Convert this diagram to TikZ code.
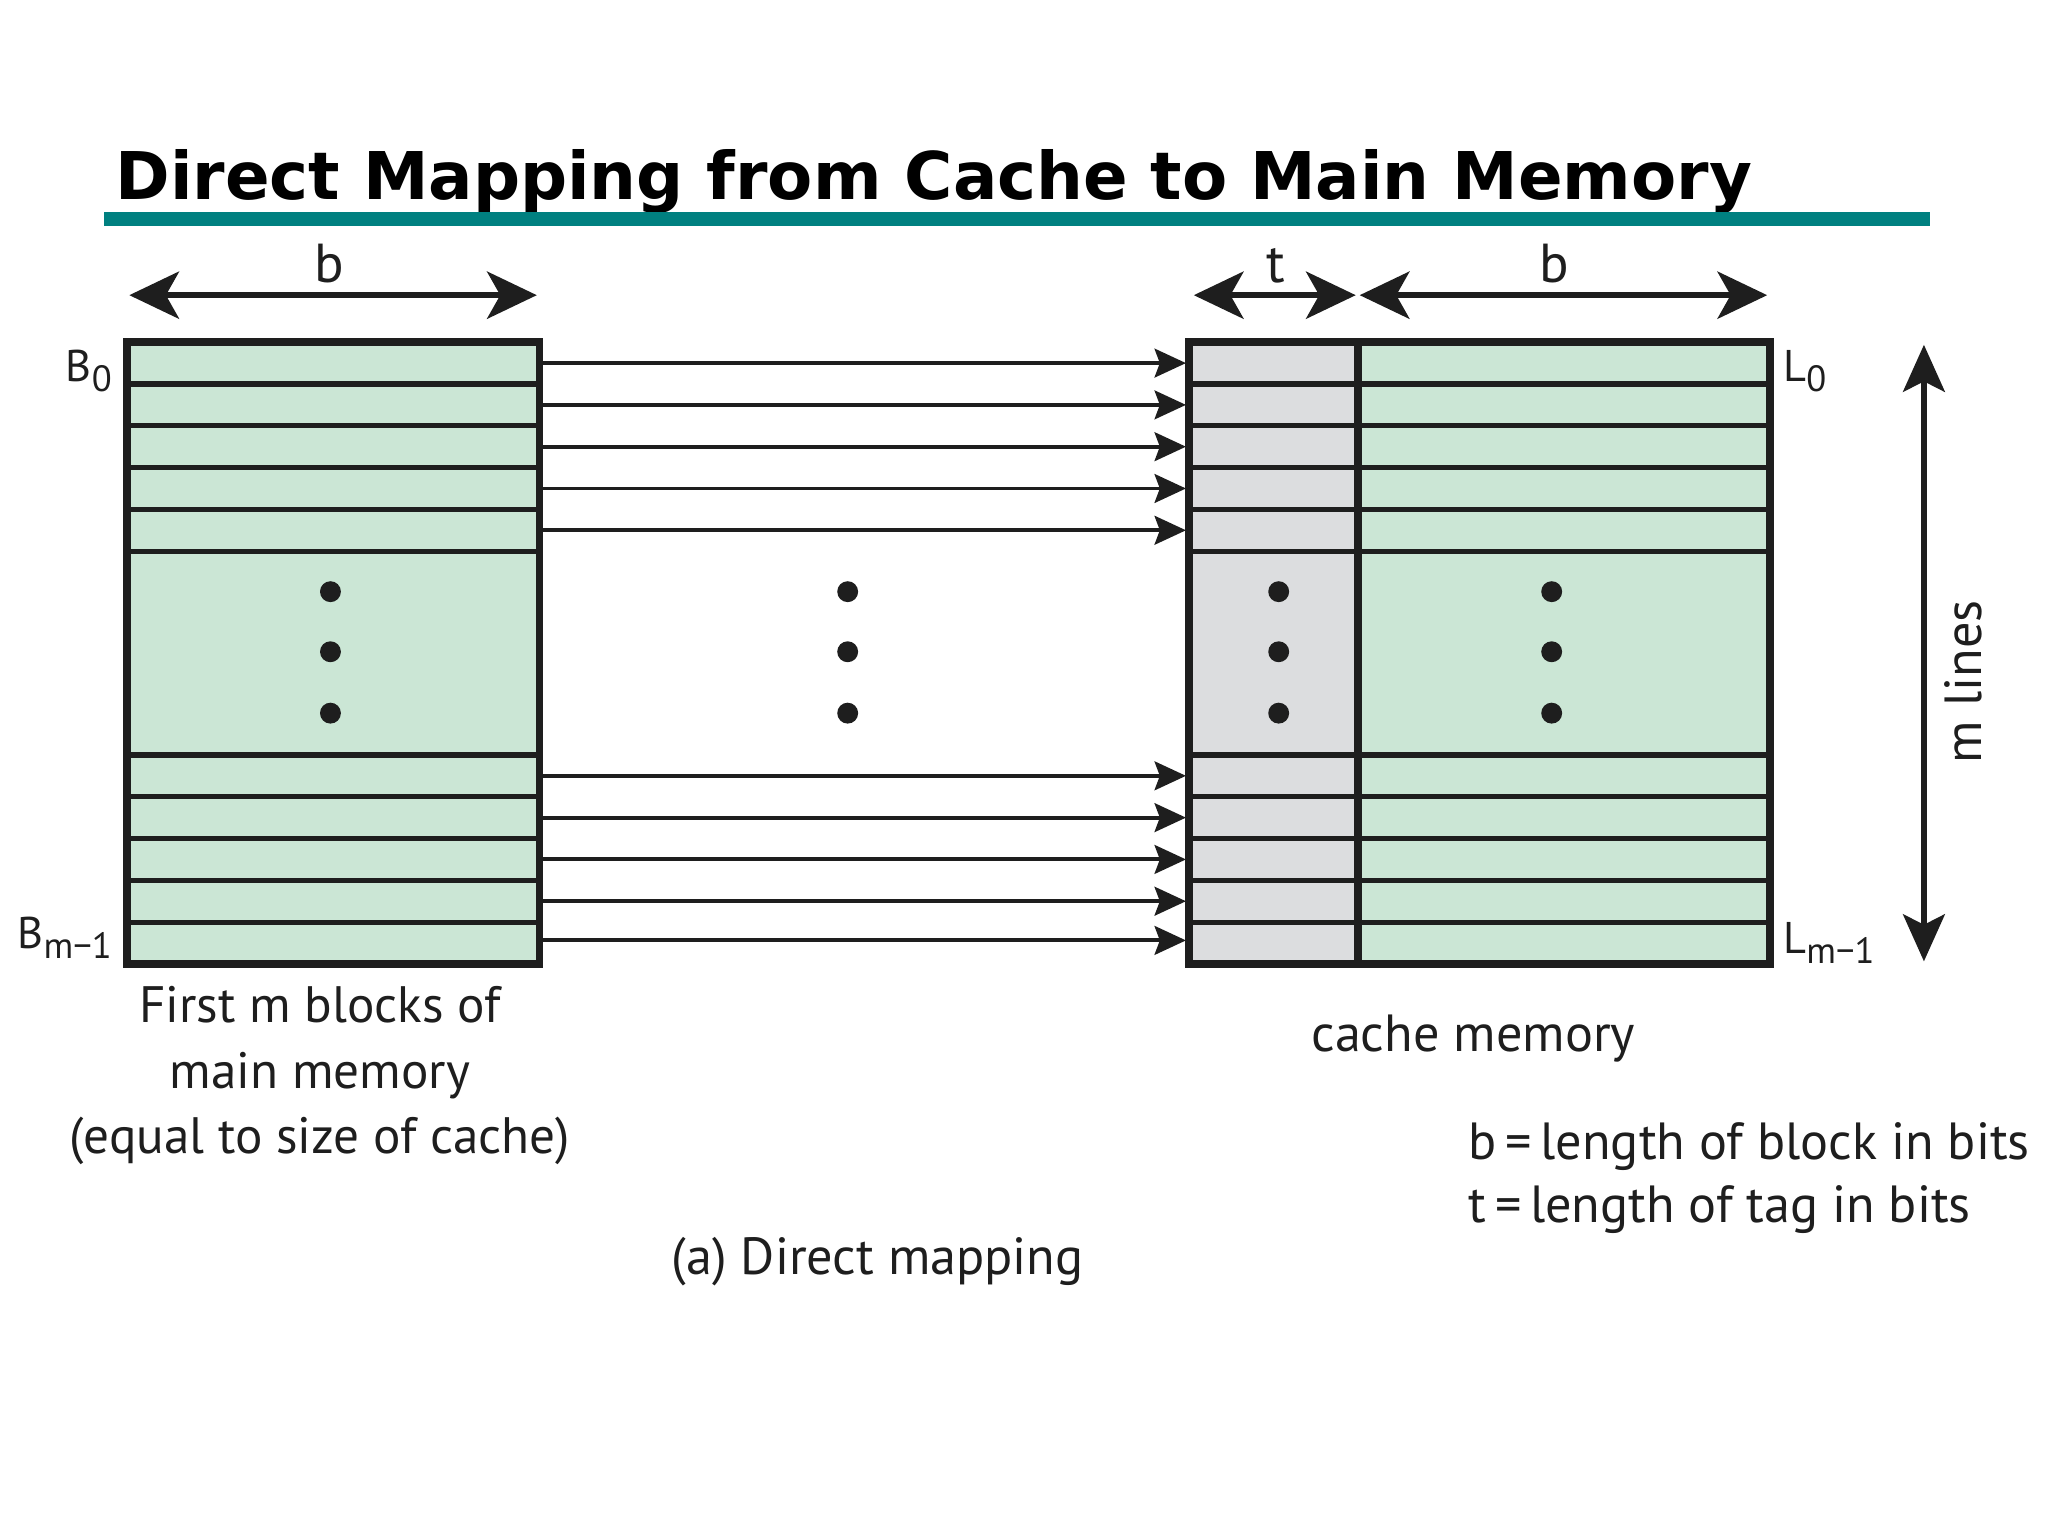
\documentclass[tikz,border=0pt]{standalone}
\usepackage{fontspec}
\setmainfont{PT Sans}
\newfontfamily\titlefont{DejaVu Sans}
\usetikzlibrary{arrows.meta}
\definecolor{cgreen}{RGB}{203,230,213}
\definecolor{cgray}{RGB}{220,221,223}
\definecolor{cteal}{RGB}{0,128,128}
\definecolor{cdark}{RGB}{30,30,30}
\tikzset{
  boxborder/.style={draw=cdark,line width=3pt},
  rowline/.style={draw=cdark,line width=2pt},
  maparrow/.style={draw=cdark,line width=1.5pt,-{Stealth[length=12pt,width=11pt,inset=2pt]}},
  dimarrow/.style={draw=cdark,line width=2.5pt,{Stealth[length=19pt,width=18pt,inset=5pt]}-{Stealth[length=19pt,width=18pt,inset=5pt]}},
  lbl/.style={font=\fontsize{20}{25}\selectfont,inner sep=0pt,text=cdark},
  dimlbl/.style={font=\fontsize{21}{24}\selectfont,inner sep=0pt,text=cdark,anchor=base},
  dot/.style={fill=cdark}
}
\begin{document}
\begin{tikzpicture}[x=0.5pt,y=-0.5pt]
\useasboundingbox (0,0) rectangle (1568,1176);
% title
\node[anchor=base west,inner sep=0pt,font=\titlefont\bfseries\fontsize{25.2}{30}\selectfont] (title) at (88,153) {Direct Mapping from Cache to Main Memory};
\fill[cteal] (80,162) rectangle (1478,173);
% left memory box
\fill[cgreen] (97,262) rectangle (413,738);
\foreach \y in {294,326,358,390,422,578,610,642,674,706} \draw[rowline] (97,\y) -- (413,\y);
\draw[boxborder] (97,262) rectangle (413,738);
% cache box
\fill[cgray] (910,262) rectangle (1040,738);
\fill[cgreen] (1040,262) rectangle (1355,738);
\foreach \y in {294,326,358,390,422,578,610,642,674,706} \draw[rowline] (910,\y) -- (1355,\y);
\draw[boxborder] (910,262) rectangle (1355,738);
\draw[boxborder] (1040,262) -- (1040,738);
% dots
\foreach \x in {253,649,979,1188} \foreach \y in {453,499,546} \fill[dot] (\x,\y) circle[radius=4pt];
% mapping arrows
\foreach \i/\y in {1/278,2/310,3/342,4/374,5/406,6/594,7/626,8/658,9/690,10/720} {
  \coordinate (s\i) at (413,\y);
  \coordinate (d\i) at (908,\y);
  \draw[maparrow] (s\i) -- (d\i);
}
% dimension arrows
\coordinate (lb1) at (99,226); \coordinate (lb2) at (411,226);
\draw[dimarrow] (lb1) -- (lb2);
\node[dimlbl] (lbt) at (252,216) {b};
\coordinate (t1) at (914,226); \coordinate (t2) at (1038,226);
\draw[dimarrow] (t1) -- (t2);
\node[dimlbl] (tt) at (977,216) {t};
\coordinate (rb1) at (1041,226); \coordinate (rb2) at (1353,226);
\draw[dimarrow] (rb1) -- (rb2);
\node[dimlbl] (rbt) at (1190,216) {b};
% m lines arrow
\coordinate (m1) at (1473,264); \coordinate (m2) at (1473,736);
\draw[draw=cdark,line width=2pt,{Stealth[length=18pt,width=16pt,inset=4pt]}-{Stealth[length=18pt,width=16pt,inset=4pt]}] (m1) -- (m2);
\node[lbl,rotate=90] (mlines) at (1503,522) {m lines};
% row labels
\node[lbl,anchor=base east,font=\fontsize{17}{20}\selectfont] (B0) at (86,292) {B\raisebox{-0.45ex}{\fontsize{14}{16}\selectfont 0}};
\node[lbl,anchor=base east,font=\fontsize{17}{20}\selectfont] (Bm) at (86,726) {B\raisebox{-0.45ex}{\fontsize{14}{16}\selectfont m−1}};
\node[lbl,anchor=base west,font=\fontsize{17}{20}\selectfont] (L0) at (1365,292) {L\raisebox{-0.45ex}{\fontsize{14}{16}\selectfont 0}};
\node[lbl,anchor=base west,font=\fontsize{17}{20}\selectfont] (Lm) at (1365,730) {L\raisebox{-0.45ex}{\fontsize{14}{16}\selectfont m−1}};
% captions
\node[lbl,align=center,anchor=north,font=\fontsize{19.6}{25}\selectfont] (mmcap) at (245,755) {First m blocks of\\main memory\\(equal to size of cache)};
\node[lbl,anchor=base] (cmcap) at (1128,805) {cache memory};
\node[lbl,anchor=base] (dmcap) at (672,976) {(a) Direct mapping};
\node[lbl,anchor=base west] (leg1) at (1124,888) {b\,=\,length of block in bits};
\node[lbl,anchor=base west] (leg2) at (1124,936) {t\,=\,length of tag in bits};
\end{tikzpicture}
\end{document}
